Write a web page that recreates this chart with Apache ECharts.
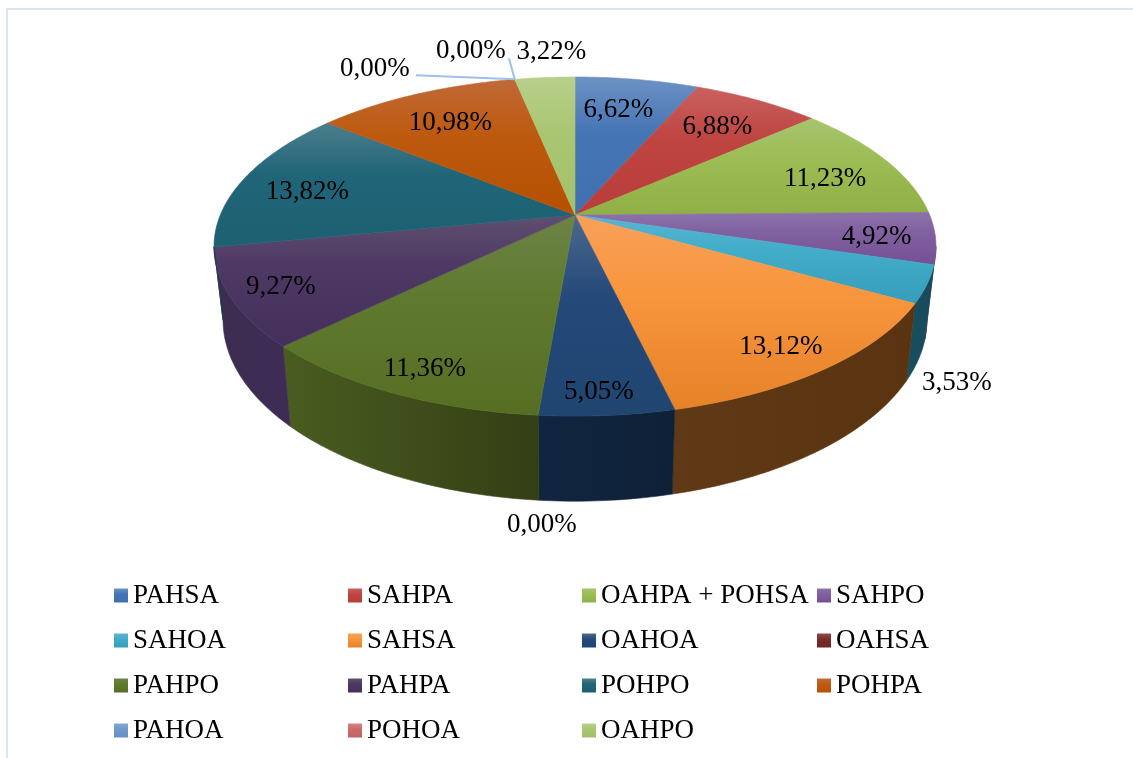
<!DOCTYPE html>
<html>
<head>
<meta charset="utf-8">
<style>html,body{margin:0;padding:0;background:#fff}#c{width:1133px;height:758px}</style>
<script src="https://cdn.jsdelivr.net/npm/echarts@6/dist/echarts.min.js"></script>
</head>
<body>
<div id="c"></div>
<script>
// ---------- data ----------
const categories = ['PAHSA','SAHPA','OAHPA + POHSA','SAHPO','SAHOA','SAHSA','OAHOA','OAHSA','PAHPO','PAHPA','POHPO','POHPA','PAHOA','POHOA','OAHPO'];
const values = [6.62,6.88,11.23,4.92,3.53,13.12,5.05,0,11.36,9.27,13.82,10.98,0,0,3.22];

// ---------- style ----------
const topLight = ['#6d92c4','#c8625f','#a7c46f','#8d73aa','#5ab4cf','#f9a05a','#4a6a8c','#8f4a48','#6d8346','#5f4f70','#4d7e8d','#c06a38','#86a8d4','#d48583','#b8cf8b'];
const topBase  = ['#4675b5','#bf4541','#9dbd55','#8060a0','#42adc9','#f8963e','#25497a','#772c2a','#5f7a30','#4e3864','#216678','#bd5a10','#6f98cb','#ca6b69','#a9c673'];
const topDark  = ['#3f70b0','#b93d3a','#8fb045','#744f94','#369dbb','#e68228','#1f4570','#6e2422','#566e22','#442f5a','#1c6072','#b55000','#6690c4','#c26361','#a3c06a'];
const wallLeft  = ['#233c5c','#5c2625','#4a5c2a','#3c2f4e','#17505f','#603a16','#122540','#3a1514','#4a5c20','#3c2d50','#14414c','#5c2d06','#3a4f68','#663836','#59653f'];
const wallRight = ['#1f3652','#532220','#425224','#3a2a50','#19495a','#5a3311','#0e2138','#321211','#333f15','#3e2c55','#113a44','#522804','#34475e','#5c3230','#505a38'];

// label placement relative to the slice's mid-angle point at radius labelRadius
const labelRadius = 0.75;
const labelShift = [[-5,1],[1,1],[14,6],[33,5],[123,117],[26,21],[1,35],[-7,168],[-20,27],[-42,11],[-18,6],[-1,2],[-153,-40],[-57,-58],[0,-56]];
// leader lines run from the rim to the label plus this offset
const leaderShift = {12:[41,6], 13:[38,7]};

// projection of the tilted disc
const CX = 575, CY = 215, RX = 354.7, RY = 163.7, PERSP = 0.186;
const BOTTOM_X = 0.975, BOTTOM_Y0 = 286, BOTTOM_YS = 1.07;
const FONT = '27px "Liberation Serif", "Times New Roman", serif';

const total = values.reduce((a, b) => a + b, 0);
const starts = [];
values.reduce((acc, v, i) => { starts[i] = acc; return acc + v; }, 0);

function project(theta, r) {
  const w = 1 + PERSP * r * Math.cos(theta);
  return [CX + RX * r * Math.sin(theta) / w, CY - RY * r * Math.cos(theta) / w];
}
function projectBottom(theta) {
  const p = project(theta, 1);
  return [CX + BOTTOM_X * (p[0] - CX), BOTTOM_Y0 + BOTTOM_YS * (p[1] - CY)];
}
function rimSamples(a0, a1) {
  const n = Math.max(2, Math.ceil((a1 - a0) / (Math.PI / 180)));
  const out = [];
  for (let k = 0; k <= n; k++) out.push(a0 + (a1 - a0) * k / n);
  return out;
}
const vgrad = (a, b, c) => new echarts.graphic.LinearGradient(0, 0, 0, 1, [
  { offset: 0, color: a }, { offset: 0.4, color: b }, { offset: 1, color: c }]);
const hgrad = (a, b) => new echarts.graphic.LinearGradient(0, 0, 1, 0, [
  { offset: 0, color: a }, { offset: 1, color: b }]);

// the wall shows only where the rim faces the viewer
const WALL_A0 = Math.PI - Math.acos(PERSP), WALL_A1 = Math.PI + Math.acos(PERSP);

function makeRender(i) {
  return function (params, api) {
    const v = api.value(0);
    const a0 = starts[i] / total * 2 * Math.PI;
    const a1 = (starts[i] + v) / total * 2 * Math.PI;
    const children = [];
    if (v > 0) {
      const wa0 = Math.max(a0, WALL_A0), wa1 = Math.min(a1, WALL_A1);
      if (wa1 > wa0) {
        const angs = rimSamples(wa0, wa1);
        const pts = angs.map(t => project(t, 1)).concat(angs.slice().reverse().map(projectBottom));
        const g = hgrad(wallLeft[i], wallRight[i]);
        children.push({ type: 'polygon', shape: { points: pts }, style: { fill: g, stroke: g, lineWidth: 0.6 } });
      }
      const top = [[CX, CY]].concat(rimSamples(a0, a1).map(t => project(t, 1)));
      const f = vgrad(topLight[i], topBase[i], topDark[i]);
      children.push({ type: 'polygon', shape: { points: top }, style: { fill: f, stroke: f, lineWidth: 0.6 } });
    }
    const mid = (a0 + a1) / 2;
    const c = project(mid, labelRadius);
    const lx = c[0] + labelShift[i][0], ly = c[1] + labelShift[i][1];
    if (leaderShift[i]) {
      const rim = project(a0, 1);
      children.push({ type: 'line',
        shape: { x1: rim[0], y1: rim[1], x2: lx + leaderShift[i][0], y2: ly + leaderShift[i][1] },
        style: { stroke: '#9dbfe8', lineWidth: 2 }, z2: 5 });
    }
    children.push({ type: 'text', z2: 10,
      style: { text: values[i].toFixed(2).replace('.', ',') + '%', x: lx, y: ly, fill: '#000', font: FONT, align: 'center', verticalAlign: 'middle' } });
    return { type: 'group', children };
  };
}

const series = categories.map((name, i) => ({
  type: 'custom', name, coordinateSystem: 'none', silent: true,
  data: [values[i]], renderItem: makeRender(i),
  itemStyle: { color: vgrad(topLight[i], topBase[i], topDark[i]) }
}));

const legendCols = [[0,4,8,12],[1,5,9,13],[2,6,10,14],[3,7,11]];
const legendLeft = [114, 348, 582, 817];
const legend = legendCols.map((col, k) => ({
  orient: 'vertical', left: legendLeft[k], top: 582, padding: 0, itemGap: 18,
  itemWidth: 14, itemHeight: 14, icon: 'rect', selectedMode: false,
  data: col.map(i => categories[i]),
  textStyle: { fontFamily: '"Liberation Serif", "Times New Roman", serif', fontSize: 27, color: '#000' }
}));

const chart = echarts.init(document.getElementById('c'), null, { renderer: 'canvas' });
chart.setOption({
  backgroundColor: '#fff',
  animation: false,
  legend,
  graphic: [{ type: 'polyline', silent: true, shape: { points: [[7, 758], [7, 9], [1133, 9]] }, style: { stroke: '#dae6f4', lineWidth: 2, fill: null } }],
  series
});
</script>
</body>
</html>
